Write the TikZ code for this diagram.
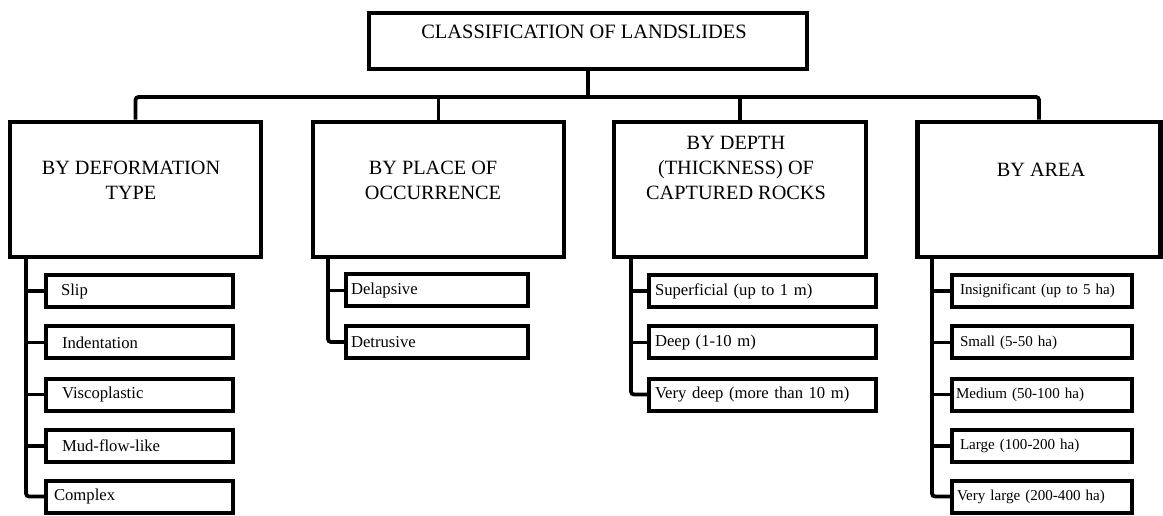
\documentclass[tikz,border=0pt]{standalone}
\usepackage{fontspec}
\setmainfont{Liberation Serif}
\newlength{\pxu}
\setlength{\pxu}{0.75pt}
\begin{document}
\begin{tikzpicture}[x=0.75pt,y=-0.75pt,
  bigbox/.style={draw, line width=4.5\pxu, inner sep=0pt},
  bigtext/.style={font=\fontsize{15.2pt}{18.6pt}\selectfont, align=center, inner sep=0pt},
  leaf/.style={draw, line width=4\pxu, inner ysep=0pt, minimum height=32\pxu, align=left,
    font=\fontsize{12.5pt}{15pt}\selectfont},
  leafs/.style={leaf, font=\fontsize{11.3pt}{14pt}\selectfont},
  conn/.style={line width=3.8\pxu, rounded corners=3\pxu}]
\useasboundingbox (0,0) rectangle (1163,516);
% title
\node[bigbox, minimum width=438\pxu, minimum height=56\pxu] (top) at (588,41) {};
\node[bigtext, font=\fontsize{15.3pt}{18.6pt}\selectfont] (toptext) at (584,32) {CLASSIFICATION OF LANDSLIDES};
% level 2
\node[bigbox, minimum width=251\pxu, minimum height=135\pxu] (b1) at (135.5,189.5) {};
\node[bigbox, minimum width=251\pxu, minimum height=135\pxu] (b2) at (438.5,189.5) {};
\node[bigbox, minimum width=252\pxu, minimum height=135\pxu] (b3) at (740,189.5) {};
\node[bigbox, minimum width=243\pxu, minimum height=135\pxu] (b4) at (1039,189.5) {};
\node[bigtext] (b1t) at (131,180.5) {BY DEFORMATION\\TYPE};
\node[bigtext] (b2t) at (433,180.5) {BY PLACE OF\\OCCURRENCE};
\node[bigtext] (b3t) at (736,168) {BY DEPTH\\(THICKNESS) OF\\CAPTURED ROCKS};
\node[bigtext] (b4t) at (1041,170) {BY AREA};
% bus
\coordinate (bus) at (588,97);
\draw[conn] (top.south) -- (bus);
\draw[conn] (b1.north) |- (bus) -| (b4.north);
\draw[conn] (b2.north) -- (b2.north |- bus);
\draw[conn] (b3.north) -- (b3.north |- bus);
% column 1
\node[leaf, text width=157\pxu, inner xsep=15\pxu] (l11) at (139.5,291) {Slip};
\node[leaf, text width=155\pxu, inner xsep=16\pxu] (l12) at (139.5,342.5) {Indentation};
\node[leaf, text width=155\pxu, inner xsep=16\pxu] (l13) at (139.5,394.5) {Viscoplastic};
\node[leaf, text width=155\pxu, inner xsep=16\pxu] (l14) at (139.5,446) {Mud-flow-like};
\node[leaf, text width=171\pxu, inner xsep=8\pxu] (l15) at (139.5,496.5) {Complex};
\coordinate (t1) at (26,257);
\draw[conn] (t1) |- (l15.west);
\foreach \n in {l11,l12,l13,l14} \draw[conn] (t1 |- \n.west) -- (\n.west);
% column 2
\node[leaf, text width=172\pxu, inner xsep=5\pxu] (l21) at (437,290.5) {Delapsive};
\node[leaf, text width=172\pxu, inner xsep=5\pxu] (l22) at (437,342) {Detrusive};
\coordinate (t2) at (328,257);
\draw[conn] (t2) |- (l22.west);
\draw[conn] (t2 |- l21.west) -- (l21.west);
% column 3
\node[leaf, text width=215\pxu, inner xsep=6\pxu] (l31) at (762.5,291) {Superficial (up to 1 m)};
\node[leaf, text width=215\pxu, inner xsep=6\pxu] (l32) at (762.5,342.5) {Deep (1-10 m)};
\node[leaf, text width=215\pxu, inner xsep=6\pxu] (l33) at (762.5,394.5) {Very deep (more than 10 m)};
\coordinate (t3) at (631,257);
\draw[conn] (t3) |- (l33.west);
\foreach \n in {l31,l32} \draw[conn] (t3 |- \n.west) -- (\n.west);
% column 4
\node[leafs, text width=164\pxu, inner xsep=8\pxu] (l41) at (1042,291) {Insignificant (up to 5 ha)};
\node[leafs, text width=164\pxu, inner xsep=8\pxu] (l42) at (1042,342.5) {Small (5-50 ha)};
\node[leafs, text width=172\pxu, inner xsep=4\pxu] (l43) at (1042,394.5) {Medium (50-100 ha)};
\node[leafs, text width=164\pxu, inner xsep=8\pxu] (l44) at (1042,446) {Large (100-200 ha)};
\node[leafs, text width=170\pxu, inner xsep=5\pxu] (l45) at (1042,496.5) {Very large (200-400 ha)};
\coordinate (t4) at (932,257);
\draw[conn] (t4) |- (l45.west);
\foreach \n in {l41,l42,l43,l44} \draw[conn] (t4 |- \n.west) -- (\n.west);
\end{tikzpicture}
\end{document}
